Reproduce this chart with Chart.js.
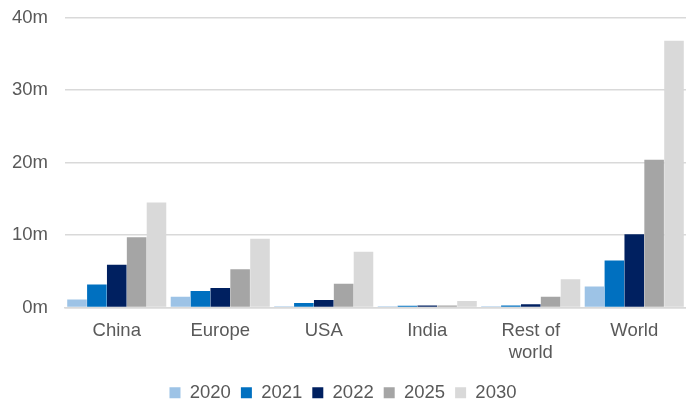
<!DOCTYPE html>
<html>
<head>
<meta charset="utf-8">
<script src="https://cdn.jsdelivr.net/npm/chart.js@4/dist/chart.umd.min.js"></script>
<style>
  html, body { margin: 0; padding: 0; background: #fff; overflow: hidden; }
  #wrap { width: 686px; height: 412px; position: relative; }
</style>
</head>
<body>
<div id="wrap"><canvas id="chart"></canvas></div>
<script>
  /* ---- Data (millions) ---- */
  const categories = ["China", "Europe", "USA", "India", ["Rest of", "world"], "World"];
  const seriesNames = ["2020", "2021", "2022", "2025", "2030"];
  const v2020 = [1.1, 1.5, 0.2, 0.2, 0.2, 2.9];
  const v2021 = [3.2, 2.3, 0.65, 0.25, 0.3, 6.5];
  const v2022 = [5.9, 2.7, 1.05, 0.3, 0.45, 10.1];
  const v2025 = [9.7, 5.3, 3.3, 0.3, 1.5, 20.4];
  const v2030 = [14.5, 9.5, 7.7, 0.9, 3.9, 36.8];
  const yTicks = [0, 10, 20, 30, 40];

  const colors = ["#9DC3E6", "#0070C0", "#002060", "#A5A5A5", "#D9D9D9"];
  const allValues = [v2020, v2021, v2022, v2025, v2030];

  const FONT = "'Liberation Sans', Arial, sans-serif";
  const TEXT = "#595959";

  new Chart(document.getElementById("chart"), {
    type: "bar",
    data: {
      labels: categories,
      datasets: seriesNames.map((name, i) => ({
        label: name,
        data: allValues[i],
        backgroundColor: colors[i],
        borderWidth: 0,
        barPercentage: 0.985,
        categoryPercentage: 0.96
      }))
    },
    options: {
      responsive: true,
      maintainAspectRatio: false,
      animation: false,
      layout: { padding: { top: 17.5, right: 0, left: 0, bottom: 0 } },
      plugins: {
        tooltip: { enabled: false },
        legend: {
          position: "bottom",
          labels: {
            color: TEXT,
            font: { family: FONT, size: 18.5 },
            boxWidth: 11,
            boxHeight: 11,
            padding: 10
          }
        }
      },
      scales: {
        x: {
          afterFit: s => { s.height += 5.5; },
          grid: { display: false },
          border: { display: true, color: "#D9D9D9", width: 1.5 },
          ticks: {
            color: TEXT,
            font: { family: FONT, size: 18.5, lineHeight: 1.2 },
            padding: 4,
            maxRotation: 0,
            autoSkip: false
          }
        },
        y: {
          min: 0,
          max: 40,
          afterFit: s => { s.width = 65; s.paddingTop = 0; },
          afterBuildTicks: s => { s.ticks = yTicks.map(v => ({ value: v })); },
          grid: { color: "#D9D9D9", lineWidth: 1.5, drawTicks: false },
          border: { display: false },
          ticks: {
            color: TEXT,
            font: { family: FONT, size: 18.5 },
            padding: 17,
            callback: v => v + "m"
          }
        }
      }
    }
  });
</script>
</body>
</html>
